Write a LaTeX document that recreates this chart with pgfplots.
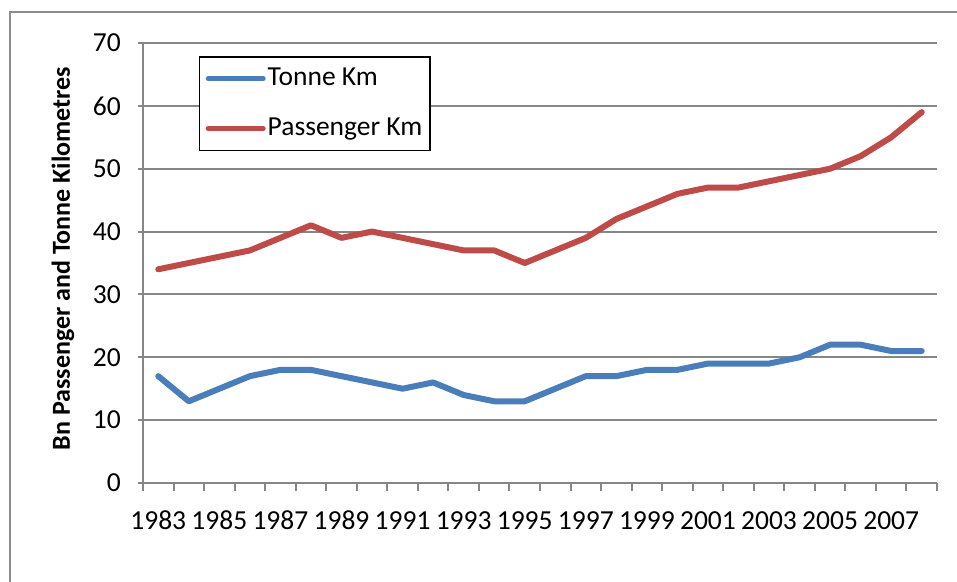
\documentclass[border=0pt]{standalone}
\usepackage{pgfplots}
\pgfplotsset{compat=1.18}
\usepackage{fontspec}
\setmainfont{Carlito}
\definecolor{tblue}{HTML}{4A7EBB}
\definecolor{pred}{HTML}{BE4B48}
\definecolor{gridgray}{HTML}{868686}
\definecolor{framegray}{HTML}{8C8C8C}

\pgfplotstableread{
idx year tonne passenger
0 1983 17 34
1 1984 13 35
2 1985 15 36
3 1986 17 37
4 1987 18 39
5 1988 18 41
6 1989 17 39
7 1990 16 40
8 1991 15 39
9 1992 16 38
10 1993 14 37
11 1994 13 37
12 1995 13 35
13 1996 15 37
14 1997 17 39
15 1998 17 42
16 1999 18 44
17 2000 18 46
18 2001 19 47
19 2002 19 47
20 2003 19 48
21 2004 20 49
22 2005 22 50
23 2006 22 52
24 2007 21 55
25 2008 21 59
}\datatable

\begin{document}
\fontsize{27}{32}\selectfont
\begin{tikzpicture}
\useasboundingbox (0pt,0pt) rectangle (957pt,581pt);
\draw[framegray, line width=1.5pt] (10pt,-5pt) -- (10pt,569pt) -- (965pt,569pt);
\begin{axis}[
  at={(143pt,98pt)}, anchor=south west,
  width=794pt, height=440pt, scale only axis,
  xmin=-0.5, xmax=25.5, ymin=0, ymax=70,
  ytick={0,10,...,70},
  xtick={0,2,...,24},
  xticklabels={1983,1985,1987,1989,1991,1993,1995,1997,1999,2001,2003,2005,2007},
  minor xtick={-0.5,0.5,...,25.5},
  axis lines=left,
  axis line style={-, gridgray, line width=2pt},
  tick align=outside,
  major x tick style={draw=none},
  minor x tick style={gridgray, line width=2pt},
  minor tick length=8pt,
  major y tick style={gridgray, line width=2pt},
  major tick length=5pt,
  ymajorgrids,
  grid style={gridgray, line width=2pt},
  /pgf/number format/assume math mode=true,
  tick label style={font=\fontsize{27.5}{32}\selectfont},
  yticklabel style={xshift=-8pt},
  xticklabel style={yshift=-14pt},
  ylabel={\bfseries Bn Passenger and Tonne Kilometres},
  ylabel style={at={(rel axis cs:-0.1008,0.51)}, anchor=center, font=\fontsize{26}{31}\selectfont},
  legend style={at={(rel axis cs:0.0705,0.970)}, anchor=north west,
    draw=black, line width=1.5pt, font=\fontsize{27.5}{32}\selectfont,
    inner xsep=6pt, inner ysep=9pt, row sep=24pt,
    /tikz/every even column/.append style={column sep=0pt}},
  legend cell align=left,
  legend image code/.code={\draw[#1, line width=5pt, line cap=round] (0pt,0pt) -- (55pt,0pt);},
]
\addplot[tblue, line width=6pt, line join=round, line cap=round] table[x=idx, y=tonne] {\datatable};
\addlegendentry{Tonne Km}
\addplot[pred, line width=6pt, line join=round, line cap=round] table[x=idx, y=passenger] {\datatable};
\addlegendentry{Passenger Km}
\end{axis}
\end{tikzpicture}
\end{document}
